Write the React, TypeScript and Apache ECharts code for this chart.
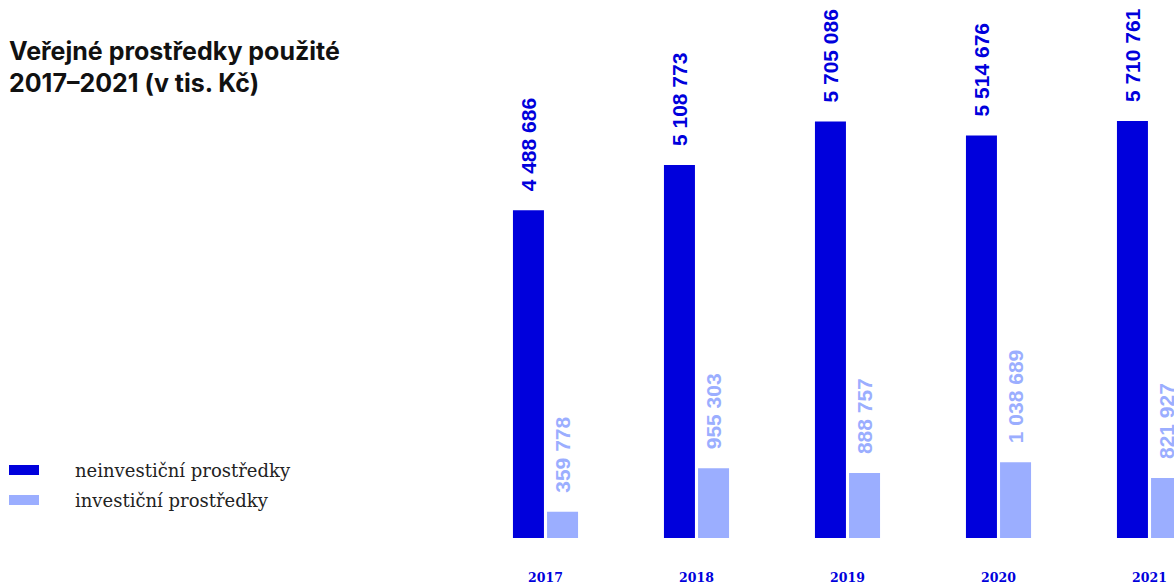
import React, { useEffect, useRef } from "react";
import * as echarts from "echarts";

const years = ["2017", "2018", "2019", "2020", "2021"];
const neinvesticni = [4488686, 5108773, 5705086, 5514676, 5710761];
const investicni = [359778, 955303, 888757, 1038689, 821927];
const seriesNames = ["neinvestiční prostředky", "investiční prostředky"];
const titleText = "Veřejné prostředky použité\n2017–2021 (v tis. Kč)";

const DARK = "#0000DC";
const LIGHT = "#9BAEFF";

const fmt = (v: number) => String(v).replace(/\B(?=(\d{3})+(?!\d))/g, " ");

export default function App() {
  const ref = useRef<HTMLDivElement>(null);
  useEffect(() => {
    if (!ref.current) return;
    const chart = echarts.init(ref.current, null, { renderer: "svg" });
    const label = (color: string) => ({
      show: true,
      position: "top",
      rotate: 90,
      distance: 19,
      align: "left",
      verticalAlign: "middle",
      color,
      fontFamily: "Liberation Sans, Arial, sans-serif",
      fontWeight: "bold",
      fontSize: 21,
      formatter: (p: any) => fmt(p.value),
    });
    chart.setOption({
      animation: false,
      backgroundColor: "#ffffff",
      title: {
        text: titleText,
        left: 4,
        top: 30,
        textStyle: {
          fontFamily: "Inter, sans-serif",
          fontWeight: "bold",
          fontSize: 25,
          lineHeight: 32,
          color: "#111111",
        },
      },
      legend: {
        orient: "vertical",
        left: 4,
        top: 455,
        itemWidth: 30,
        itemHeight: 10,
        itemGap: 10,
        icon: "rect",
        data: seriesNames,
        textStyle: {
          fontFamily: "DejaVu Serif, serif",
          fontSize: 18,
          lineHeight: 20,
          color: "#222222",
          padding: [0, 0, 0, 31],
        },
      },
      grid: { left: 470, top: 27, right: 0, bottom: 46, containLabel: false },
      xAxis: {
        type: "category",
        data: years,
        axisLine: { show: false },
        axisTick: { show: false },
        axisLabel: {
          margin: 33,
          color: DARK,
          fontFamily: "DejaVu Serif, serif",
          fontWeight: "bold",
          fontSize: 12.5,
        },
      },
      yAxis: {
        type: "value",
        min: 0,
        max: 7000000,
        show: false,
        splitLine: { show: false },
      },
      series: [
        {
          name: seriesNames[0],
          type: "bar",
          data: neinvesticni,
          barWidth: 31,
          barGap: "10%",
          itemStyle: { color: DARK },
          label: label(DARK),
        },
        {
          name: seriesNames[1],
          type: "bar",
          data: investicni,
          barWidth: 31,
          itemStyle: { color: LIGHT },
          label: label(LIGHT),
        },
      ],
    });
    return () => chart.dispose();
  }, []);
  return (
    <div
      style={{
        position: "absolute",
        left: 0,
        top: 0,
        width: 1174,
        height: 584,
        overflow: "hidden",
      }}
    >
      <div ref={ref} style={{ width: 1225, height: 584 }} />
    </div>
  );
}
